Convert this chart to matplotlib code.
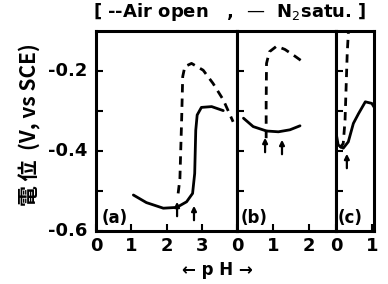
import matplotlib
matplotlib.use("Agg")
import matplotlib.pyplot as plt

# ---- data ----
a_air_ph = [2.33, 2.38, 2.43, 2.46, 2.52, 2.71, 3.04, 3.32, 3.61, 3.89]
a_air_v = [-0.506, -0.47, -0.32, -0.214, -0.189, -0.181, -0.198, -0.231, -0.272, -0.327]
a_n2_ph = [1.06, 1.43, 1.91, 2.29, 2.57, 2.74, 2.80, 2.83, 2.87, 2.99, 3.28, 3.61]
a_n2_v = [-0.51, -0.529, -0.543, -0.541, -0.527, -0.506, -0.456, -0.348, -0.31, -0.291, -0.289, -0.299]

b_air_ph = [0.81, 0.81, 0.82, 0.90, 1.10, 1.33, 1.61, 1.89]
b_air_v = [-0.368, -0.281, -0.181, -0.152, -0.138, -0.146, -0.163, -0.181]
b_n2_ph = [0.18, 0.45, 0.82, 1.15, 1.47, 1.75]
b_n2_v = [-0.318, -0.339, -0.35, -0.352, -0.347, -0.337]

c_air_ph = [0.11, 0.20, 0.25, 0.28, 0.31, 0.34, 0.36]
c_air_v = [-0.393, -0.381, -0.323, -0.239, -0.156, -0.106, -0.08]
c_n2_ph = [0.02, 0.06, 0.20, 0.34, 0.48, 0.62, 0.81, 0.99, 1.05]
c_n2_v = [-0.364, -0.385, -0.393, -0.377, -0.331, -0.307, -0.277, -0.281, -0.29]

arrows_a_ph = [2.30, 2.78]
arrows_a_v = [-0.52, -0.53]
arrows_b_ph = [0.78, 1.25]
arrows_b_v = [-0.36, -0.365]
arrows_c_ph = [0.30]
arrows_c_v = [-0.40]

panel_labels = ["(a)", "(b)", "(c)"]
xlims = [(0, 4.0), (0, 2.75), (0, 1.05)]
xticks = [[0, 1, 2, 3], [0, 1, 2], [0, 1]]
yticks_major = [-0.6, -0.4, -0.2]
ytick_labels = ["-0.6", "-0.4", "-0.2"]
yticks_minor = [-0.5, -0.3]

W, H = 388, 284
fig = plt.figure(figsize=(W / 100, H / 100), dpi=100)
fig.patch.set_facecolor("white")

left_px = [96, 237, 336]
right_px = [237, 336, 374]
top_px, bot_px = 31, 231

series = [
    (a_air_ph, a_air_v, a_n2_ph, a_n2_v, arrows_a_ph, arrows_a_v),
    (b_air_ph, b_air_v, b_n2_ph, b_n2_v, arrows_b_ph, arrows_b_v),
    (c_air_ph, c_air_v, c_n2_ph, c_n2_v, arrows_c_ph, arrows_c_v),
]

axes = []
for i in range(3):
    ax = fig.add_axes([left_px[i] / W, 1 - bot_px / H,
                       (right_px[i] - left_px[i]) / W, (bot_px - top_px) / H])
    axes.append(ax)
    ap, av, npx, nv, arp, arv = series[i]
    ax.plot(ap, av, color="black", lw=2.0, ls=(0, (3.0, 2.2)), clip_on=True)
    ax.plot(npx, nv, color="black", lw=2.0, solid_capstyle="round")
    for x, y in zip(arp, arv):
        ax.annotate("", xy=(x, y), xytext=(x, y - 0.05),
                    arrowprops=dict(arrowstyle="-|>", color="black", lw=1.6,
                                    mutation_scale=7))
    ax.set_xlim(*xlims[i])
    ax.set_ylim(-0.6, -0.1)
    ax.set_xticks(xticks[i])
    ax.set_xticklabels([])
    ax.set_yticks(yticks_major + yticks_minor)
    ax.set_yticklabels([])
    ax.tick_params(direction="in", length=5, width=1.5, top=False, right=False)
    for s in ax.spines.values():
        s.set_linewidth(2.2)
    ax.text(0.04, 0.02, panel_labels[i], transform=ax.transAxes,
            fontsize=12, fontweight="bold", ha="left", va="bottom")

# x tick labels
for i, ax in enumerate(axes):
    for t in xticks[i]:
        ax.text(t, -0.615, str(t), ha="center", va="top",
                fontsize=13, fontweight="bold", clip_on=False)

for y, lab in zip(yticks_major, ytick_labels):
    axes[0].text(-0.25, y, lab, ha="right", va="center", fontsize=13,
                 fontweight="bold", clip_on=False)

fig.text(217 / W, 1 - 270 / H, "← p H →", ha="center", va="center",
         fontsize=12, fontweight="bold")
fig.text(30 / W, 1 - 125 / H, "電 位  (V, vs SCE)", rotation=90, ha="center",
         va="center", fontsize=15, fontweight="bold",
         family=["Noto Sans CJK JP", "DejaVu Sans"])
fig.text(230 / W, 1 - 12 / H, "[ --Air open   ,  —  N$_2$satu. ]", ha="center",
         va="center", fontsize=13, fontweight="bold")

fig.savefig("out.png", dpi=100)
